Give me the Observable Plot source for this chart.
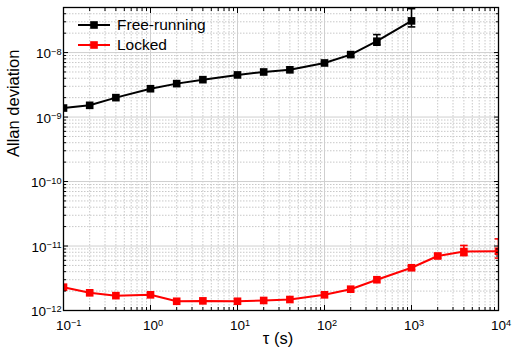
<!DOCTYPE html>
<html>
<head>
<meta charset="utf-8">
<script src="https://cdn.jsdelivr.net/npm/d3@7"></script>
<script src="https://cdn.jsdelivr.net/npm/@observablehq/plot@0.6"></script>
<style>
  body { margin: 0; background: white; }
  #wrap { position: relative; width: 516px; height: 356px; font-family: "Liberation Sans", Arial, sans-serif; }
  #legend { position: absolute; left: 78px; top: 15px; font-size: 15.5px; color: #000; }
  #legend .row { display: flex; align-items: center; height: 20px; }
  #legend .row span { margin-left: 7px; }
</style>
</head>
<body>
<div id="wrap"></div>
<script>
// ---- data ----
const tauFree  = [0.1, 0.2, 0.4, 1, 2, 4, 10, 20, 40, 100, 200, 400, 1000];
const adevFree = [1.38e-9, 1.52e-9, 2.0e-9, 2.75e-9, 3.3e-9, 3.8e-9, 4.5e-9, 5.0e-9, 5.4e-9, 6.9e-9, 9.3e-9, 1.5e-8, 3.1e-8];
const errFreeTau = [200, 400, 1000];
const errFreeLo  = [8.6e-9, 1.3e-8, 2.5e-8];
const errFreeHi  = [1.0e-8, 1.9e-8, 4.8e-8];

const tauLock  = [0.1, 0.2, 0.4, 1, 2, 4, 10, 20, 40, 100, 200, 400, 1000, 2000, 4000, 10000];
const adevLock = [2.3e-12, 1.88e-12, 1.7e-12, 1.75e-12, 1.39e-12, 1.41e-12, 1.39e-12, 1.43e-12, 1.48e-12, 1.75e-12, 2.14e-12, 3.0e-12, 4.6e-12, 7.0e-12, 8.2e-12, 8.3e-12];
const errLockTau = [1000, 2000, 4000, 10000];
const errLockLo  = [4.3e-12, 6.5e-12, 7.1e-12, 6.5e-12];
const errLockHi  = [4.9e-12, 7.6e-12, 1.02e-11, 1.29e-11];

const seriesNames = ["Free-running", "Locked"];
const seriesColors = ["#000000", "#ff0000"];

const xMajor = [1e-1, 1e0, 1e1, 1e2, 1e3, 1e4];
const xMajorLabels = ["10^−1", "10^0", "10^1", "10^2", "10^3", "10^4"];
const yMajor = [1e-12, 1e-11, 1e-10, 1e-9, 1e-8];
const yMajorLabels = ["10^−12", "10^−11", "10^−10", "10^−9", "10^−8"];
const minorMult = [2, 3, 4, 5, 6, 7, 8, 9];
const xDecades = [1e-1, 1e0, 1e1, 1e2, 1e3];
const yDecades = [1e-12, 1e-11, 1e-10, 1e-9, 1e-8];
const xDomain = [0.1, 1e4];
const yDomain = [1e-12, 5e-8];

// ---- tables ----
const free = tauFree.map((t, i) => ({tau: t, v: adevFree[i]}));
const lock = tauLock.map((t, i) => ({tau: t, v: adevLock[i]}));
const errFree = errFreeTau.map((t, i) => ({tau: t, lo: errFreeLo[i], hi: errFreeHi[i]}));
const errLock = errLockTau.map((t, i) => ({tau: t, lo: errLockLo[i], hi: errLockHi[i]}));
const xMinor = xDecades.flatMap(d => minorMult.map(m => d * m));
const yMinor = yDecades.flatMap(d => minorMult.map(m => d * m)).filter(v => v <= yDomain[1]);

const capSymbol = { draw(ctx) { ctx.moveTo(-3.8, 0); ctx.lineTo(3.8, 0); } };
const fmtX = d => xMajorLabels[xMajor.indexOf(d)] ?? "";
const fmtY = d => yMajorLabels[yMajor.indexOf(d)] ?? "";
const blank = () => "";

function seriesMarks(data, err, color) {
  return [
    Plot.ruleX(err, {x: "tau", y1: "lo", y2: "hi", stroke: color, strokeWidth: 1.6, clip: true}),
    Plot.dot(err, {x: "tau", y: "lo", symbol: capSymbol, stroke: color, strokeWidth: 1.6, clip: true}),
    Plot.dot(err, {x: "tau", y: "hi", symbol: capSymbol, stroke: color, strokeWidth: 1.6, clip: true}),
    Plot.line(data, {x: "tau", y: "v", stroke: color, strokeWidth: 2, clip: true}),
    Plot.dot(data, {x: "tau", y: "v", symbol: "square", r: 4.3, fill: color, stroke: "none", clip: true})
  ];
}

const chart = Plot.plot({
  width: 516,
  height: 356,
  marginLeft: 63,
  marginRight: 18,
  marginTop: 7,
  marginBottom: 46,
  style: {fontFamily: "'Liberation Sans', Arial, sans-serif", fontSize: "13.5px", background: "white", color: "#000"},
  x: {type: "log", domain: xDomain},
  y: {type: "log", domain: yDomain},
  marks: [
    Plot.gridX(xMinor, {stroke: "#c8c8c8", strokeOpacity: 1, strokeDasharray: "1.5,1.5"}),
    Plot.gridY(yMinor, {stroke: "#c8c8c8", strokeOpacity: 1, strokeDasharray: "1.5,1.5"}),
    Plot.gridX(xMajor, {stroke: "#cfcfcf", strokeOpacity: 1}),
    Plot.gridY(yMajor, {stroke: "#cfcfcf", strokeOpacity: 1}),
    ...seriesMarks(free, errFree, seriesColors[0]),
    ...seriesMarks(lock, errLock, seriesColors[1]),
    // inward ticks
    Plot.axisX(xMajor, {anchor: "bottom", tickSize: -5, tickFormat: blank, label: null}),
    Plot.axisX(xMinor, {anchor: "bottom", tickSize: -3, tickFormat: blank, label: null}),
    Plot.axisX(xMajor, {anchor: "top", tickSize: -5, tickFormat: blank, label: null}),
    Plot.axisX(xMinor, {anchor: "top", tickSize: -3, tickFormat: blank, label: null}),
    Plot.axisY(yMajor, {anchor: "left", tickSize: -5, tickFormat: blank, label: null}),
    Plot.axisY(yMinor, {anchor: "left", tickSize: -3, tickFormat: blank, label: null}),
    Plot.axisY(yMajor, {anchor: "right", tickSize: -5, tickFormat: blank, label: null}),
    Plot.axisY(yMinor, {anchor: "right", tickSize: -3, tickFormat: blank, label: null}),
    // labels
    Plot.axisX(xMajor, {anchor: "bottom", tickSize: 0, tickPadding: 10, tickFormat: fmtX, label: null, fontSize: 13.5}),
    Plot.axisY(yMajor, {anchor: "left", tickSize: 0, tickPadding: 2, dy: 1.5, tickFormat: fmtY, label: null, fontSize: 13.5}),
    Plot.frame({stroke: "#000", strokeWidth: 1.3}),
    Plot.text(["τ (s)"], {frameAnchor: "bottom", dy: 33, dx: -3, fontSize: 16.5, ariaLabel: "xtitle"}),
    Plot.text(["Allan deviation"], {frameAnchor: "left", rotate: -90, dx: -50, dy: -2, fontSize: 16.5})
  ]
});

// superscripts on tick labels
const NS = "http://www.w3.org/2000/svg";
chart.querySelectorAll('g[aria-label="x-axis tick label"] text, g[aria-label="y-axis tick label"] text').forEach(t => {
  const s = t.textContent;
  if (!s.includes("^")) return;
  const [b, e] = s.split("^");
  const isX = t.closest('g[aria-label="x-axis tick label"]') !== null;
  t.textContent = "";
  const t1 = document.createElementNS(NS, "tspan");
  t1.textContent = b;
  const t2 = document.createElementNS(NS, "tspan");
  t2.textContent = e;
  t2.setAttribute("dy", "-0.42em");
  t2.setAttribute("font-size", "0.68em");
  if (isX) {
    t.setAttribute("text-anchor", "start");
    t1.setAttribute("dx", "-0.556em");
  }
  t.appendChild(t1);
  t.appendChild(t2);
});
// italic tau
chart.querySelectorAll('g[aria-label="xtitle"] text').forEach(t => {
  t.textContent = "";
  const a = document.createElementNS(NS, "tspan");
  a.textContent = "τ";
  a.setAttribute("font-style", "italic");
  a.setAttribute("font-family", "'DejaVu Serif', serif");
  const b = document.createElementNS(NS, "tspan");
  b.textContent = " (s)";
  t.appendChild(a); t.appendChild(b);
});

const wrap = document.getElementById("wrap");
wrap.appendChild(chart);

// legend
const legend = document.createElement("div");
legend.id = "legend";
legend.innerHTML = seriesNames.map((n, i) =>
  `<div class="row"><svg width="32" height="12"><line x1="0" x2="32" y1="6" y2="6" stroke="${seriesColors[i]}" stroke-width="2"/><rect x="12.2" y="2.2" width="7.6" height="7.6" fill="${seriesColors[i]}"/></svg><span>${n}</span></div>`
).join("");
wrap.appendChild(legend);
</script>
</body>
</html>
